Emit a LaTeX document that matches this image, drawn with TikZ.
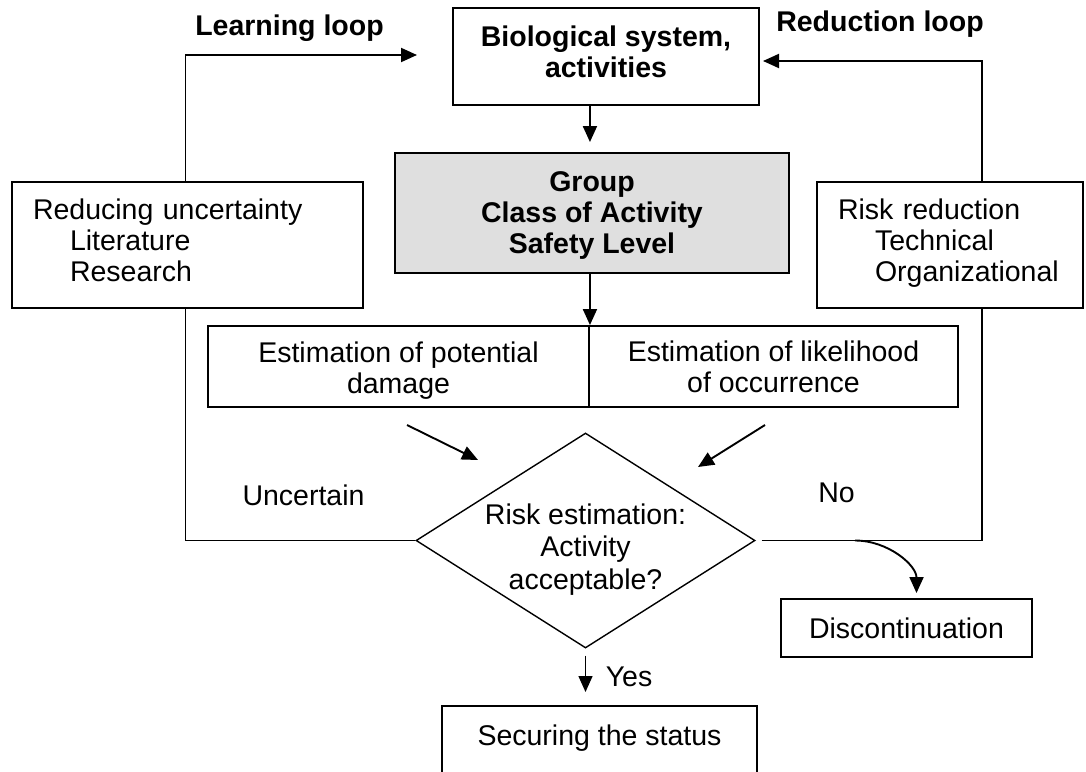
\documentclass[tikz,border=0pt]{standalone}
\usepackage{fontspec}
\setmainfont{Liberation Sans}
\usetikzlibrary{arrows.meta,shapes.geometric}

\begin{document}
\begin{tikzpicture}[x=1pt,y=-1pt,
  every node/.style={font=\fontsize{28.5}{31}\selectfont},
  bold/.style={font=\fontsize{28.5}{31}\selectfont\bfseries},
  box/.style={draw, line width=1.9pt, inner sep=0pt, align=center},
  arr/.style={line width=1.9pt, -{Triangle[length=16pt,width=14pt]}},
  plain/.style={line width=1.9pt}]

\useasboundingbox (0,0) rectangle (1086,771);

% Boxes
\node[box, minimum width=306pt, minimum height=97pt,
  label={[bold, align=center, yshift=5pt]center:{Biological system,\\activities}}] (bio) at (606,56.5) {};
\node[box, bold, fill=gray!25, minimum width=394pt, minimum height=120pt,
  label={[bold, align=center, yshift=-3pt]center:{Group\\Class of Activity\\Safety Level}}] (group) at (592,213) {};
\node[box, minimum width=351pt, minimum height=126pt,
  label={[align=left, text width=309pt, yshift=5pt]center:{Reducing uncertainty\\\hspace*{37pt}Literature\\\hspace*{37pt}Research}}]
  (reduce) at (187.5,245) {};
\node[box, minimum width=266pt, minimum height=126pt,
  label={[align=left, text width=224pt, yshift=2pt]center:{Risk reduction\\\hspace*{37pt}Technical\\\hspace*{37pt}Organizational}}]
  (riskred) at (950,245) {};
\node[box, minimum width=381pt, minimum height=81pt,
  label={[align=center, yshift=-4pt]center:{Estimation of potential\\damage}}] (damage) at (398.5,366.5) {};
\node[box, minimum width=369pt, minimum height=81pt] (likely) at (773.5,366.5) {Estimation of likelihood\\of occurrence};
\node[draw, diamond, line width=1.4pt, minimum width=339pt, minimum height=215pt, inner sep=0pt,
  label={[align=center, font=\fontsize{28.5}{32.5}\selectfont, yshift=-9pt]center:{Risk estimation:\\Activity\\acceptable?}}]
  (risk) at (585.5,540.5) {};
\node[box, minimum width=251pt, minimum height=58pt] (stop) at (906.5,628) {Discontinuation};
\node[box, anchor=north, minimum width=315pt, text height=21pt, text depth=60pt, inner ysep=19pt] (secure)
  at (599.5,705) {Securing the status};

% Labels
\node[bold] (learnlbl) at (289.5,28) {Learning loop};
\node[bold] (redlbl) at (880,24) {Reduction loop};
\node (uncert) at (303.5,495) {Uncertain};
\node (nolbl) at (836.5,493) {No};
\node (yeslbl) at (629,677) {Yes};

% Free ends
\coordinate (learnend) at (417,55);
\coordinate (redend) at (763,61);
\coordinate (dmgstart) at (407,425);
\coordinate (dmgend) at (478,460);
\coordinate (likstart) at (765,425);
\coordinate (likend) at (698,467);
\coordinate (nobranch) at (855,540.5);

% Connectors
\draw[arr] ([xshift=-2pt]reduce.north) |- (learnend);
\draw[arr] ([xshift=32pt]riskred.north) |- (redend);
\draw[arr, shorten >=10pt] (bio.south -| damage.east) -- (group.north -| damage.east);
\draw[arr] (group.south -| damage.east) -- (damage.north east);
\draw[arr] (dmgstart) -- (dmgend);
\draw[arr] (likstart) -- (likend);
\draw[plain] (risk.west) -| ([xshift=-2pt]reduce.south);
\draw[plain, shorten <=6pt] (risk.east) -| ([xshift=32pt]riskred.south);
\draw[arr, shorten >=5pt] (nobranch) to[out=0,in=90] ([xshift=10pt]stop.north);
\draw[arr, line width=1.4pt, shorten <=7pt, shorten >=13pt] (risk.south) -- (risk.south |- secure.north);

\end{tikzpicture}
\end{document}
